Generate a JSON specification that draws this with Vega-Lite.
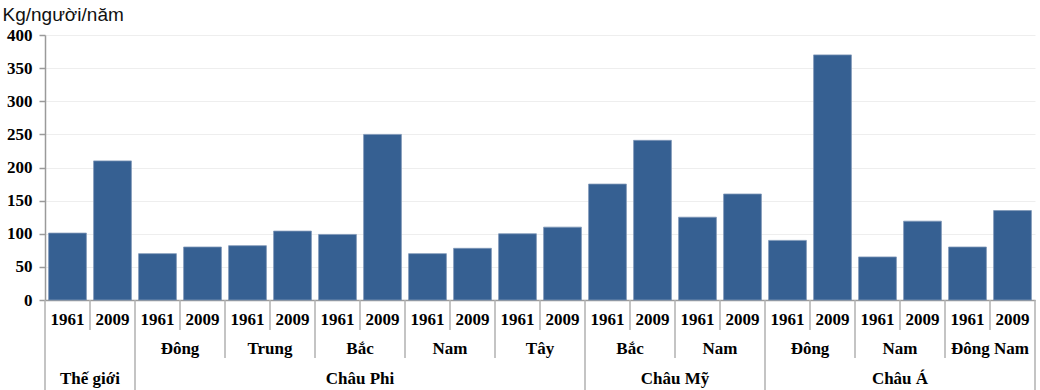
{
  "$schema": "https://vega.github.io/schema/vega-lite/v6.json",
  "padding": {"left": 2, "top": 5, "right": 5, "bottom": 0},
  "background": "white",
  "spacing": 0,
  "bounds": "flush",
  "config": {"view": {"stroke": null}, "concat": {"spacing": 0}},
  "datasets": {
    "bars": [
      {"id": "b01", "year": "1961", "sub": "", "region": "Thế giới", "value": 101},
      {"id": "b02", "year": "2009", "sub": "", "region": "Thế giới", "value": 210},
      {"id": "b03", "year": "1961", "sub": "Đông", "region": "Châu Phi", "value": 70},
      {"id": "b04", "year": "2009", "sub": "Đông", "region": "Châu Phi", "value": 80},
      {"id": "b05", "year": "1961", "sub": "Trung", "region": "Châu Phi", "value": 82},
      {"id": "b06", "year": "2009", "sub": "Trung", "region": "Châu Phi", "value": 104},
      {"id": "b07", "year": "1961", "sub": "Bắc", "region": "Châu Phi", "value": 99},
      {"id": "b08", "year": "2009", "sub": "Bắc", "region": "Châu Phi", "value": 250},
      {"id": "b09", "year": "1961", "sub": "Nam", "region": "Châu Phi", "value": 70},
      {"id": "b10", "year": "2009", "sub": "Nam", "region": "Châu Phi", "value": 78},
      {"id": "b11", "year": "1961", "sub": "Tây", "region": "Châu Phi", "value": 100},
      {"id": "b12", "year": "2009", "sub": "Tây", "region": "Châu Phi", "value": 110},
      {"id": "b13", "year": "1961", "sub": "Bắc", "region": "Châu Mỹ", "value": 175},
      {"id": "b14", "year": "2009", "sub": "Bắc", "region": "Châu Mỹ", "value": 241},
      {"id": "b15", "year": "1961", "sub": "Nam", "region": "Châu Mỹ", "value": 125},
      {"id": "b16", "year": "2009", "sub": "Nam", "region": "Châu Mỹ", "value": 160},
      {"id": "b17", "year": "1961", "sub": "Đông", "region": "Châu Á", "value": 90},
      {"id": "b18", "year": "2009", "sub": "Đông", "region": "Châu Á", "value": 370},
      {"id": "b19", "year": "1961", "sub": "Nam", "region": "Châu Á", "value": 65},
      {"id": "b20", "year": "2009", "sub": "Nam", "region": "Châu Á", "value": 119},
      {"id": "b21", "year": "1961", "sub": "Đông Nam", "region": "Châu Á", "value": 80},
      {"id": "b22", "year": "2009", "sub": "Đông Nam", "region": "Châu Á", "value": 135}
    ],
    "subLabels": [
      {"label": "Đông", "mid": "b03"},
      {"label": "Trung", "mid": "b05"},
      {"label": "Bắc", "mid": "b07"},
      {"label": "Nam", "mid": "b09"},
      {"label": "Tây", "mid": "b11"},
      {"label": "Bắc", "mid": "b13"},
      {"label": "Nam", "mid": "b15"},
      {"label": "Đông", "mid": "b17"},
      {"label": "Nam", "mid": "b19"},
      {"label": "Đông Nam", "mid": "b21"}
    ],
    "regionLabels": [
      {"label": "Thế giới", "mid": "b01"},
      {"label": "Châu Phi", "mid": "b07"},
      {"label": "Châu Mỹ", "mid": "b14"},
      {"label": "Châu Á", "mid": "b19"}
    ],
    "subBounds": [
      {"id": "b01"}, {"id": "b03"}, {"id": "b05"}, {"id": "b07"}, {"id": "b09"}, {"id": "b11"},
      {"id": "b13"}, {"id": "b15"}, {"id": "b17"}, {"id": "b19"}, {"id": "b21"}
    ],
    "regionBounds": [
      {"id": "b01"}, {"id": "b03"}, {"id": "b13"}, {"id": "b17"}
    ],
    "lastBar": [{"id": "b22"}]
  },
  "resolve": {"scale": {"x": "shared"}},
  "vconcat": [
    {
      "width": 990,
      "height": 265,
      "data": {"name": "bars"},
      "mark": {"type": "bar", "width": {"band": 0.84}, "color": "#366092", "stroke": "#7f97b8", "strokeWidth": 0.8},
      "encoding": {
        "x": {
          "field": "id", "type": "nominal",
          "scale": {"paddingInner": 0, "paddingOuter": 0},
          "axis": {"labels": false, "ticks": false, "title": null, "domainColor": "#9a9a9a", "domainWidth": 1.5, "minExtent": 0, "maxExtent": 0, "offset": 0}
        },
        "y": {
          "field": "value", "type": "quantitative",
          "scale": {"domain": [0, 400]},
          "axis": {
            "values": [0, 50, 100, 150, 200, 250, 300, 350, 400],
            "title": "Kg/người/năm",
            "titleAngle": 0, "titleAlign": "left", "titleBaseline": "alphabetic",
            "titleX": -43, "titleY": -15,
            "titleFont": "Liberation Sans", "titleFontSize": 19, "titleFontWeight": "normal", "titleColor": "#111",
            "labelFont": "Liberation Serif", "labelFontSize": 17, "labelFontWeight": "bold", "labelColor": "#000",
            "labelPadding": 7,
            "tickColor": "#9a9a9a", "tickSize": 6, "tickWidth": 1.5,
            "domainColor": "#9a9a9a", "domainWidth": 1.5,
            "gridColor": "#eeeeee", "gridWidth": 1
          }
        }
      }
    },
    {
      "width": 990,
      "height": 30,
      "layer": [
        {
          "data": {"name": "bars"},
          "mark": {"type": "rule", "color": "#b0b0b0", "strokeWidth": 1.5},
          "encoding": {"x": {"field": "id", "type": "nominal", "bandPosition": 0, "axis": null}}
        },
        {
          "data": {"name": "lastBar"},
          "mark": {"type": "rule", "color": "#b0b0b0", "strokeWidth": 1.5},
          "encoding": {"x": {"field": "id", "type": "nominal", "bandPosition": 1, "axis": null}}
        },
        {
          "data": {"name": "bars"},
          "mark": {"type": "text", "font": "Liberation Serif", "fontSize": 17, "fontWeight": "bold", "color": "#000", "baseline": "middle", "dy": 5},
          "encoding": {
            "x": {"field": "id", "type": "nominal", "axis": null},
            "text": {"field": "year"}
          }
        }
      ]
    },
    {
      "width": 990,
      "height": 28,
      "layer": [
        {
          "data": {"name": "subBounds"},
          "mark": {"type": "rule", "color": "#b0b0b0", "strokeWidth": 1.5},
          "encoding": {"x": {"field": "id", "type": "nominal", "bandPosition": 0, "axis": null}}
        },
        {
          "data": {"name": "lastBar"},
          "mark": {"type": "rule", "color": "#b0b0b0", "strokeWidth": 1.5},
          "encoding": {"x": {"field": "id", "type": "nominal", "bandPosition": 1, "axis": null}}
        },
        {
          "data": {"name": "subLabels"},
          "mark": {"type": "text", "font": "Liberation Serif", "fontSize": 17, "fontWeight": "bold", "color": "#000", "baseline": "middle", "dy": 5},
          "encoding": {
            "x": {"field": "mid", "type": "nominal", "bandPosition": 1, "axis": null},
            "text": {"field": "label"}
          }
        }
      ]
    },
    {
      "width": 990,
      "height": 32,
      "layer": [
        {
          "data": {"name": "regionBounds"},
          "mark": {"type": "rule", "color": "#b0b0b0", "strokeWidth": 1.5},
          "encoding": {"x": {"field": "id", "type": "nominal", "bandPosition": 0, "axis": null}}
        },
        {
          "data": {"name": "lastBar"},
          "mark": {"type": "rule", "color": "#b0b0b0", "strokeWidth": 1.5},
          "encoding": {"x": {"field": "id", "type": "nominal", "bandPosition": 1, "axis": null}}
        },
        {
          "data": {"name": "regionLabels"},
          "mark": {"type": "text", "font": "Liberation Serif", "fontSize": 17, "fontWeight": "bold", "color": "#000", "baseline": "middle", "dy": 5},
          "encoding": {
            "x": {"field": "mid", "type": "nominal", "bandPosition": 1, "axis": null},
            "text": {"field": "label"}
          }
        }
      ]
    }
  ]
}
